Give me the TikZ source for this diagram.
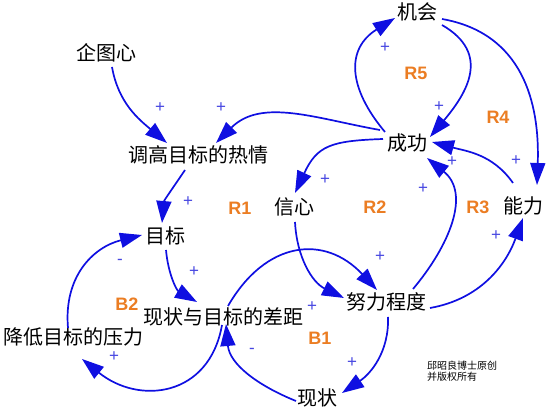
\documentclass[tikz,border=0pt]{standalone}
\usepackage{fontspec}
\setmainfont{Noto Sans CJK SC}
\newfontfamily\latinfont{Liberation Sans}
\usepackage{xcolor}
\usepackage{tikz}
\usetikzlibrary{calc,arrows.meta}

\definecolor{linkblue}{RGB}{15,15,225}
\definecolor{plusblue}{RGB}{70,70,225}
\definecolor{looporange}{RGB}{235,125,35}

\tikzset{
  var/.style={font=\fontsize{20}{24}\selectfont, inner sep=0pt},
  link/.style={draw=linkblue, line width=1.7pt, -{Triangle[length=22pt,width=15pt]}},
  looplabel/.style={font=\latinfont\bfseries\fontsize{18}{20}\selectfont, text=looporange, inner sep=0pt},
  polarity/.style={font=\latinfont\fontsize{17}{18}\selectfont, text=plusblue, inner sep=0pt},
  credit/.style={font=\fontsize{10}{11.5}\selectfont, inner sep=0pt, align=left}
}

\begin{document}
\begin{tikzpicture}[x=1pt,y=1pt]
		\useasboundingbox (0,0) rectangle (549,414);
		
		% variables
		\node[var] (jihui) at (417,402) {机会};
		\node[var] (qitu) at (106,361) {企图心};
		\node[var] (tiaogao) at (198,259) {调高目标的热情};
		\node[var] (chenggong) at (407,271) {成功};
		\node[var] (xinxin) at (294,207) {信心};
		\node[var] (nengli) at (523,208) {能力};
		\node[var] (mubiao) at (165,178) {目标};
		\node[var] (chaju) at (223,97) {现状与目标的差距};
		\node[var] (nuli) at (386,112) {努力程度};
		\node[var] (yali) at (74,77) {降低目标的压力};
		\node[var] (xianzhuang) at (317,16) {现状};
		
		\node[credit, anchor=west] (note) at (427,43) {邱昭良博士原创\\并版权所有};
		
		% loop names
		\node[looplabel] (r5) at (416,341) {R5};
		\node[looplabel] (r4) at (498,297) {R4};
		\node[looplabel] (r1) at (240,206) {R1};
		\node[looplabel] (r2) at (375,207) {R2};
		\node[looplabel] (r3) at (478,207) {R3};
		\node[looplabel] (b2) at (127,110) {B2};
		\node[looplabel] (b1) at (320,76) {B1};
		
		% links
		\draw[link] ($(qitu)+(6,-14)$) to[out=-80,in=140] ($(tiaogao)+(-31,12)$);
		\draw[link] ($(chenggong)+(-27,13)$) to[out=170,in=45] ($(tiaogao)+(18,12)$);
		\draw[link] ($(tiaogao)+(-13,-15)$) to[out=-124,in=85] ($(mubiao)+(-3,13)$);
		\draw[link] ($(mubiao)+(1,-14)$) to[out=-85,in=150] ($(chaju)+(-26,15)$);
		\draw[link] ($(chaju)+(-1,-8)$) to[out=-100,in=-39,looseness=1.3] ($(yali)+(8,-22)$);
		\draw[link] ($(yali)+(-6,9)$) to[out=95,in=-166,looseness=1.1] ($(mubiao)+(-23,1)$);
		\draw[link] ($(xianzhuang)+(-21,-3)$) to[out=158,in=-85] ($(chaju)+(3,-7)$);
		\draw[link] ($(chaju)+(5,11)$) to[out=60,in=133,looseness=1.3] ($(nuli)+(-9,12)$);
		\draw[link] ($(xinxin)+(1,-15)$) to[out=-87,in=154] ($(nuli)+(-42,4)$);
		\draw[link] ($(nuli)+(27,13)$) to[out=50,in=-39,looseness=1.1] ($(chenggong)+(20,-15)$);
		\draw[link] ($(nuli)+(2,-15)$) to[out=-88,in=34] ($(xianzhuang)+(25,5)$);
		\draw[link] ($(nuli)+(44,-6)$) to[out=10,in=-110] ($(nengli)+(0,-12)$);
		\draw[link] ($(chenggong)+(-24,4)$) to[out=182,in=65,looseness=1.3] ($(xinxin)+(1,14)$);
		\draw[link] ($(chenggong)+(-22,11)$) to[out=130,in=-148,looseness=1.3] ($(jihui)+(-22,-6)$);
		\draw[link] ($(jihui)+(25,-13)$) to[out=-30,in=50,looseness=1.3] ($(chenggong)+(23,6)$);
		\draw[link] ($(jihui)+(25,-7)$) to[out=-10,in=88,looseness=1.1] ($(nengli)+(14,21)$);
		\draw[link] ($(nengli)+(-10,23)$) to[out=125,in=-15] ($(chenggong)+(25,1)$);
		
		% polarities
		\foreach \px/\py/\s [count=\i] in {160/306/+, 221/306/+, 188/212/+, 385/366/+,
			439/307/+, 452/252/+, 516/253/+, 325/234/+, 423/225/+, 194/142/+, 120/152/-,
			114/57/+, 252/63/-, 380/157/+, 312/107/+, 496/178/+, 352/51/+}
			\node[polarity] (pol\i) at (\px,\py) {\s};
	\end{tikzpicture}
\end{document}
